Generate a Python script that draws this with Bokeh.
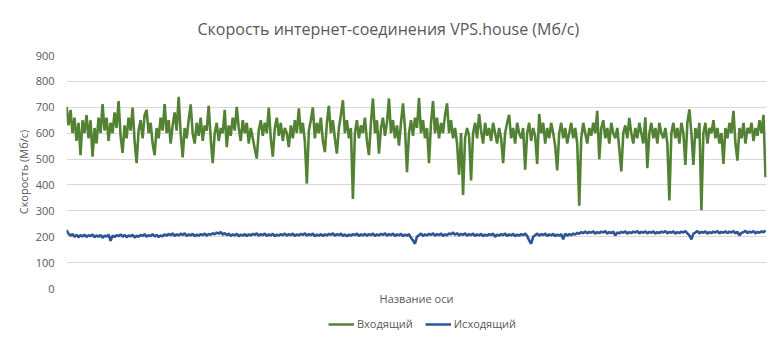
from bokeh.plotting import figure
from bokeh.layouts import column
from bokeh.models import Range1d, FixedTicker, Legend, LegendItem, ColumnDataSource
from bokeh.embed import file_html
from bokeh.resources import INLINE

incoming = [
    702, 630, 690, 600, 660, 570, 640, 515, 650, 600,
    670, 580, 650, 509, 620, 560, 660, 600, 712, 610,
    660, 570, 640, 600, 680, 620, 724, 590, 524, 630,
    580, 660, 610, 699, 570, 484, 610, 650, 580, 670,
    690, 600, 640, 560, 515, 620, 580, 660, 610, 712,
    600, 650, 560, 630, 680, 610, 740, 600, 506, 620,
    580, 650, 711, 600, 560, 640, 590, 660, 570, 630,
    610, 706, 580, 484, 600, 640, 570, 620, 600, 690,
    546, 630, 590, 660, 610, 702, 620, 570, 650, 600,
    640, 560, 620, 580, 540, 502, 610, 650, 590, 640,
    600, 699, 580, 509, 620, 660, 590, 640, 570, 620,
    600, 546, 630, 580, 650, 600, 696, 600, 640, 570,
    405, 610, 650, 699, 580, 640, 600, 660, 570, 527,
    640, 706, 600, 650, 580, 521, 620, 670, 727, 600,
    650, 580, 620, 346, 600, 650, 580, 630, 600, 660,
    570, 515, 640, 734, 600, 650, 521, 620, 660, 590,
    640, 734, 600, 650, 580, 630, 552, 640, 715, 620,
    449, 600, 650, 590, 660, 620, 736, 600, 650, 580,
    620, 484, 640, 724, 600, 660, 580, 640, 600, 670,
    715, 600, 650, 580, 620, 560, 440, 600, 361, 580,
    620, 590, 417, 600, 640, 580, 674, 610, 560, 640,
    590, 620, 570, 640, 600, 560, 620, 580, 484, 600,
    640, 671, 580, 620, 560, 640, 600, 580, 620, 459,
    600, 640, 570, 620, 590, 481, 674, 600, 640, 560,
    620, 580, 640, 600, 550, 456, 600, 640, 580, 620,
    560, 600, 640, 580, 620, 560, 320, 580, 640, 600,
    560, 620, 590, 640, 600, 686, 499, 620, 650, 580,
    620, 560, 640, 600, 580, 620, 540, 452, 600, 630,
    580, 659, 600, 560, 620, 580, 640, 600, 560, 661,
    465, 600, 640, 580, 620, 560, 640, 600, 580, 620,
    560, 340, 600, 640, 580, 620, 560, 640, 600, 477,
    640, 692, 600, 477, 620, 580, 640, 302, 600, 640,
    560, 620, 600, 650, 580, 620, 560, 600, 481, 620,
    580, 640, 600, 686, 560, 494, 620, 580, 640, 560,
    620, 600, 640, 570, 620, 590, 650, 600, 671, 430,
]

outgoing = [
    225, 212, 204, 210, 200, 207, 198, 206, 201, 208,
    199, 206, 202, 209, 198, 205, 200, 207, 196, 204,
    201, 208, 184, 204, 199, 206, 202, 209, 200, 207,
    198, 205, 201, 208, 197, 204, 200, 207, 203, 210,
    200, 206, 203, 210, 201, 207, 199, 205, 202, 209,
    204, 211, 206, 213, 203, 209, 205, 212, 207, 213,
    203, 209, 205, 211, 202, 208, 204, 210, 206, 212,
    204, 211, 207, 214, 209, 216, 212, 218, 208, 214,
    206, 212, 203, 209, 205, 211, 202, 208, 204, 210,
    203, 209, 205, 211, 207, 213, 204, 210, 206, 212,
    203, 209, 205, 211, 202, 208, 204, 210, 206, 212,
    204, 210, 206, 212, 203, 209, 205, 211, 207, 213,
    204, 210, 206, 212, 202, 208, 204, 210, 203, 209,
    205, 211, 207, 213, 204, 210, 206, 212, 203, 209,
    202, 208, 204, 210, 206, 212, 203, 209, 205, 211,
    204, 210, 206, 212, 203, 209, 205, 211, 207, 213,
    204, 210, 206, 212, 203, 209, 205, 211, 202, 208,
    204, 210, 196, 185, 173, 200, 206, 212, 203, 209,
    205, 211, 207, 213, 204, 210, 206, 212, 203, 209,
    206, 213, 209, 216, 207, 214, 205, 211, 207, 213,
    204, 210, 206, 212, 203, 209, 205, 211, 202, 208,
    204, 210, 206, 212, 200, 208, 204, 210, 206, 212,
    203, 209, 205, 211, 202, 208, 204, 210, 206, 212,
    203, 186, 173, 200, 206, 212, 204, 210, 206, 212,
    203, 209, 205, 211, 202, 208, 204, 210, 190, 212,
    204, 210, 206, 212, 208, 215, 211, 218, 214, 220,
    213, 219, 215, 221, 212, 218, 214, 220, 216, 222,
    212, 218, 214, 220, 205, 216, 213, 219, 215, 221,
    212, 218, 214, 220, 216, 222, 213, 219, 215, 221,
    213, 219, 215, 221, 212, 218, 214, 220, 216, 222,
    213, 219, 215, 221, 212, 218, 214, 220, 216, 222,
    213, 205, 190, 212, 216, 222, 213, 219, 215, 221,
    212, 218, 214, 220, 216, 222, 213, 219, 215, 221,
    214, 220, 216, 222, 213, 219, 205, 215, 217, 223,
    214, 220, 216, 222, 213, 219, 215, 221, 217, 224,
]

y_ticks = [0, 100, 200, 300, 400, 500, 600, 700, 800, 900]
series_names = ["Входящий", "Исходящий"]
series_colors = ["#548235", "#2f5597"]
title_text = "Скорость интернет-соединения VPS.house (Мб/с)"
y_title = "Скорость (Мб/с)"
x_title = "Название оси"

idx = list(range(len(incoming)))
src = ColumnDataSource(dict(x=idx, inc=incoming, out=outgoing))

FONT = "Open Sans"
GREY = "#595959"

p = figure(width=780, height=310, output_backend="svg", toolbar_location=None,
           x_range=Range1d(0, len(idx) - 1 + 0.5), y_range=Range1d(0, 900),
           min_border_left=66, min_border_right=14, min_border_top=48, min_border_bottom=22)
p.outline_line_color = None
p.background_fill_color = "white"
p.border_fill_color = "white"

p.title.text = title_text
p.title.align = "left"
p.title.offset = 131
p.title.text_font = FONT
p.title.text_font_size = "16px"
p.title.text_font_style = "normal"
p.title.text_color = GREY
p.title.standoff = 31

p.xgrid.visible = False
p.ygrid.ticker = FixedTicker(ticks=y_ticks)
p.ygrid.grid_line_color = "#d9d9d9"

xa = p.xaxis[0]
xa.ticker = FixedTicker(ticks=[])
xa.axis_line_color = None
xa.major_tick_line_color = None
xa.minor_tick_line_color = None
xa.major_label_text_font_size = "0px"
xa.major_label_standoff = 0
xa.axis_label = x_title
xa.axis_label_text_font = FONT
xa.axis_label_text_font_size = "11px"
xa.axis_label_text_font_style = "normal"
xa.axis_label_text_color = GREY
xa.axis_label_standoff = 2

ya = p.yaxis[0]
ya.ticker = FixedTicker(ticks=y_ticks)
ya.axis_line_color = None
ya.major_tick_line_color = None
ya.minor_tick_line_color = None
ya.major_label_text_font = FONT
ya.major_label_text_font_size = "11px"
ya.major_label_text_color = GREY
ya.major_label_standoff = 6
ya.axis_label = y_title
ya.axis_label_text_font = FONT
ya.axis_label_text_font_size = "11px"
ya.axis_label_text_font_style = "normal"
ya.axis_label_text_color = GREY
ya.axis_label_standoff = 2

p.line("x", "inc", source=src, line_color=series_colors[0], line_width=2.6)
p.line("x", "out", source=src, line_color=series_colors[1], line_width=2.6)

# legend strip below the chart (key renderers sit outside its visible range)
lg = figure(width=780, height=44, output_backend="svg", toolbar_location=None,
            x_range=Range1d(0, 1), y_range=Range1d(0, 1), min_border=0)
lg.axis.visible = False
lg.grid.visible = False
lg.outline_line_color = None
lg.background_fill_color = "white"
lg.border_fill_color = "white"
k1 = lg.line(x=[0, 1], y=[-5, -5], line_color=series_colors[0], line_width=2.5)
k2 = lg.line(x=[0, 1], y=[-5, -5], line_color=series_colors[1], line_width=2.5)
legend = Legend(items=[LegendItem(label=series_names[0], renderers=[k1]),
                       LegendItem(label=series_names[1], renderers=[k2])],
                orientation="horizontal", location=(262, 23),
                label_text_font=FONT, label_text_font_size="11px", label_text_color=GREY,
                glyph_width=26, glyph_height=12, label_height=12, label_standoff=3,
                spacing=12, border_line_color=None, background_fill_alpha=0,
                padding=2, margin=0)
lg.add_layout(legend)

layout = column(p, lg, spacing=0)
open("out.html", "w").write(file_html(layout, INLINE))
